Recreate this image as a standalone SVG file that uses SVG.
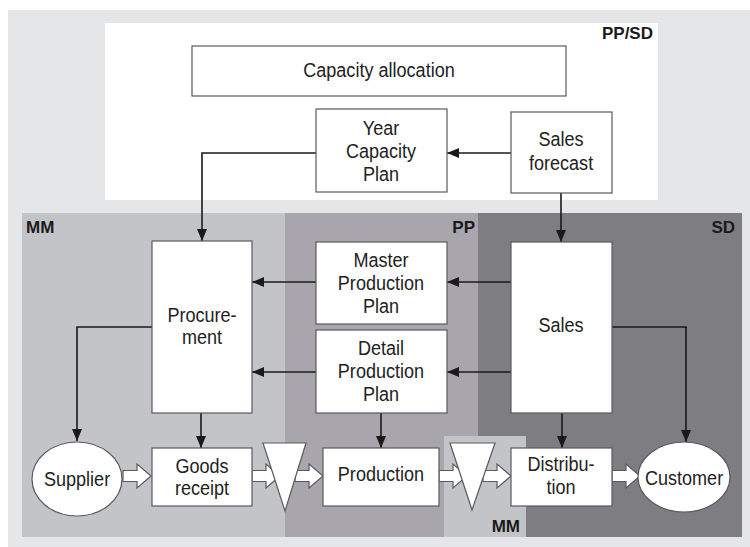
<svg xmlns="http://www.w3.org/2000/svg" width="750" height="547" viewBox="0 0 750 547">
<defs>
<style>
.box{fill:#fff;stroke:#5a5a5e;stroke-width:1.2}
.t{font-family:"Liberation Sans",Arial,sans-serif;font-size:21px;fill:#222;text-anchor:middle;transform-box:fill-box;transform-origin:center;transform:scaleX(0.86)}
.lb{font-family:"Liberation Sans",Arial,sans-serif;font-size:17px;font-weight:bold;fill:#1a1a1a}
.c{fill:none;stroke:#1a1a1a;stroke-width:1.6;marker-end:url(#ah)}
.blk{fill:#fff;stroke:#5a5a5e;stroke-width:1.2}
</style>
<marker id="ah" markerUnits="userSpaceOnUse" markerWidth="12" markerHeight="10" refX="12" refY="5" orient="auto">
<path d="M0,0 L12,5 L0,10 z" fill="#1a1a1a"/>
</marker>
<path id="ba" d="M-28,-5.5 H-14 V-12 L0,0 L-14,12 V5.5 H-28 z"/>
</defs>
<rect x="0" y="0" width="750" height="547" fill="#fff"/>
<rect x="8" y="10" width="742" height="537" fill="#e5e6e8"/>
<rect x="105" y="23" width="553" height="177" fill="#fff"/>
<rect x="22" y="213" width="263" height="324" fill="#c3c4c8"/>
<rect x="285" y="213" width="193" height="324" fill="#a8a6ac"/>
<rect x="478" y="213" width="264" height="324" fill="#7e7d82"/>
<rect x="444" y="436" width="82" height="101" fill="#c3c4c8"/>
<text class="lb" x="653" y="39" text-anchor="end">PP/SD</text>
<text class="lb" x="26" y="233">MM</text>
<text class="lb" x="475" y="233" text-anchor="end">PP</text>
<text class="lb" x="735" y="233" text-anchor="end">SD</text>
<text class="lb" x="520" y="532" text-anchor="end">MM</text>
<g id="connectors">
<path class="c" d="M511,153 H447"/>
<path class="c" d="M316,153 H202 V241"/>
<path class="c" d="M561,193 V242"/>
<path class="c" d="M511,282 H447"/>
<path class="c" d="M511,372 H447"/>
<path class="c" d="M316,282 H252"/>
<path class="c" d="M316,372 H252"/>
<path class="c" d="M152,327 H77 V441"/>
<path class="c" d="M201,413 V448"/>
<path class="c" d="M381,413 V448"/>
<path class="c" d="M562,413 V448"/>
<path class="c" d="M612,327 H686 V442"/>
<use href="#ba" class="blk" x="151" y="476"/>
<use href="#ba" class="blk" x="280" y="476"/>
<use href="#ba" class="blk" x="323" y="476"/>
<use href="#ba" class="blk" x="467" y="476"/>
<use href="#ba" class="blk" x="511" y="476"/>
<use href="#ba" class="blk" x="640" y="476"/>
</g>
<g id="capacity-allocation"><rect class="box" x="192" y="46" width="374" height="50"/><text class="t" x="379" y="77">Capacity allocation</text></g>
<g id="year-capacity-plan"><rect class="box" x="316" y="109" width="131" height="83"/><text class="t" x="381" y="135">Year</text><text class="t" x="381" y="158">Capacity</text><text class="t" x="381" y="181">Plan</text></g>
<g id="sales-forecast"><rect class="box" x="511" y="112" width="101" height="81"/><text class="t" x="561" y="146">Sales</text><text class="t" x="561" y="170">forecast</text></g>
<g id="procurement"><rect class="box" x="152" y="241" width="100" height="172"/><text class="t" x="202" y="322">Procure-</text><text class="t" x="202" y="344">ment</text></g>
<g id="master-production-plan"><rect class="box" x="316" y="242" width="131" height="82"/><text class="t" x="381" y="267">Master</text><text class="t" x="381" y="290">Production</text><text class="t" x="381" y="313">Plan</text></g>
<g id="detail-production-plan"><rect class="box" x="316" y="330" width="131" height="83"/><text class="t" x="381" y="355">Detail</text><text class="t" x="381" y="378">Production</text><text class="t" x="381" y="401">Plan</text></g>
<g id="sales"><rect class="box" x="511" y="242" width="101" height="171"/><text class="t" x="561" y="332">Sales</text></g>
<g id="supplier"><ellipse class="box" cx="77" cy="479" rx="45" ry="37"/><text class="t" x="77" y="486">Supplier</text></g>
<g id="goods-receipt"><rect class="box" x="152" y="448" width="100" height="58"/><text class="t" x="202" y="473">Goods</text><text class="t" x="202" y="495">receipt</text></g>
<g id="store-1"><path class="box" d="M263,443 H306 L285,511 z"/></g>
<g id="production"><rect class="box" x="323" y="448" width="116" height="58"/><text class="t" x="381" y="481">Production</text></g>
<g id="store-2"><path class="box" d="M450,443 H495 L472,510 z"/></g>
<g id="distribution"><rect class="box" x="511" y="448" width="101" height="58"/><text class="t" x="561" y="471">Distribu-</text><text class="t" x="561" y="494">tion</text></g>
<g id="customer"><ellipse class="box" cx="684" cy="477" rx="46" ry="35"/><text class="t" x="684" y="485">Customer</text></g>
</svg>
